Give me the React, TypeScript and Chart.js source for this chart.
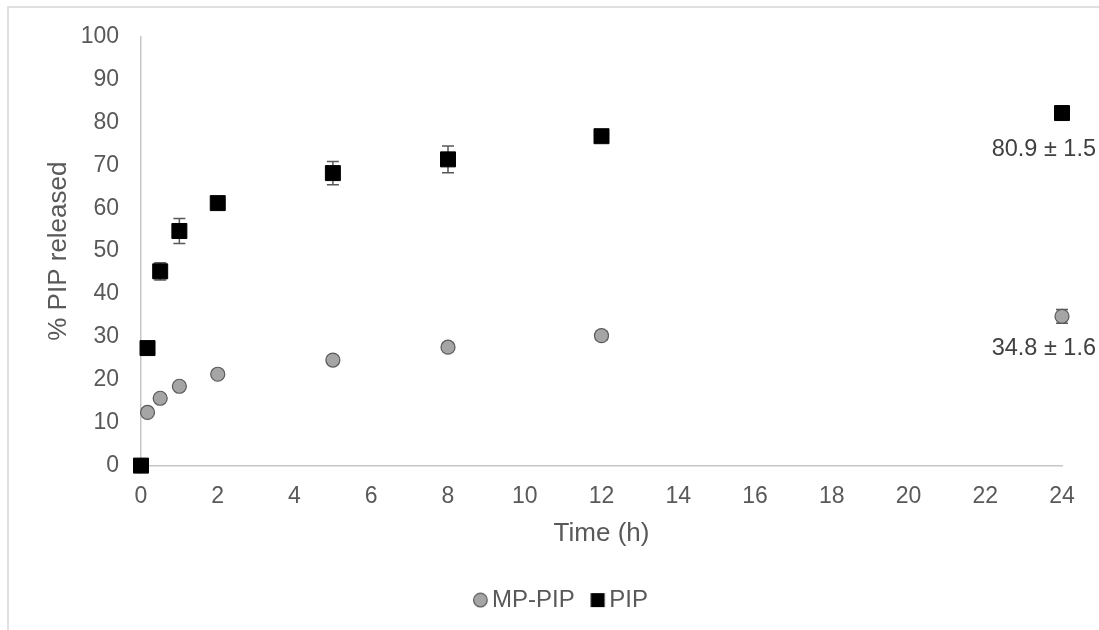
import React, { useEffect, useRef } from "react";
import { Chart, registerables } from "chart.js";

Chart.register(...registerables);

const timeHours = [0, 0.17, 0.5, 1, 2, 5, 8, 12, 24];
const mpPipValues = [0, 12.4, 15.7, 18.5, 21.3, 24.6, 27.6, 30.3, 34.8];
const mpPipErrors = [0, 0.5, 0.6, 0.7, 0.8, 0.9, 1.0, 1.0, 1.6];
const pipValues = [0, 27.4, 45.3, 54.7, 61.2, 68.2, 71.4, 76.8, 82.2];
const pipErrors = [0, 0.8, 2.0, 2.9, 0.9, 2.7, 3.1, 1.2, 1.5];
const seriesNames = ["MP-PIP", "PIP"];
const endLabels = ["34.8 ± 1.6", "80.9 ± 1.5"];
const xTickValues = [0, 2, 4, 6, 8, 10, 12, 14, 16, 18, 20, 22, 24];
const yTickValues = [0, 10, 20, 30, 40, 50, 60, 70, 80, 90, 100];
const xTitle = "Time (h)";
const yTitle = "% PIP released";

const FONT = "'Liberation Sans', Arial, sans-serif";
const TEXT = "#595959";

function makeLegendMarker(kind: "circle" | "rect", shift: number) {
  const c = document.createElement("canvas");
  c.width = 40;
  c.height = 16;
  const g = c.getContext("2d")!;
  const cx = 20 + shift;
  const cy = 8;
  if (kind === "circle") {
    g.beginPath();
    g.arc(cx, cy, 6.8, 0, Math.PI * 2);
    g.fillStyle = "#a5a5a5";
    g.fill();
    g.lineWidth = 1.2;
    g.strokeStyle = "#595959";
    g.stroke();
  } else {
    g.fillStyle = "#000000";
    g.fillRect(cx - 7, cy - 7, 14, 14);
  }
  return c;
}

export default function App() {
  const ref = useRef<HTMLCanvasElement | null>(null);

  useEffect(() => {
    if (!ref.current) return;
    const legendMarkers = [makeLegendMarker("circle", 10.4), makeLegendMarker("rect", 10.4)];
    const valueSets = [mpPipValues, pipValues];
    const errorSets = [mpPipErrors, pipErrors];
    const labelOffsets = [32, 36];

    const errorBars = {
      id: "errorBars",
      beforeDatasetsDraw(chart: any) {
        const ctx = chart.ctx;
        const xs = chart.scales.x;
        const ys = chart.scales.y;
        ctx.save();
        ctx.strokeStyle = "#595959";
        ctx.lineWidth = 1.5;
        valueSets.forEach((vals, d) => {
          const errs = errorSets[d];
          vals.forEach((v, i) => {
            const e = errs[i];
            if (!e) return;
            const x = xs.getPixelForValue(timeHours[i]);
            const y1 = ys.getPixelForValue(v + e);
            const y2 = ys.getPixelForValue(v - e);
            ctx.beginPath();
            ctx.moveTo(x, y1);
            ctx.lineTo(x, y2);
            ctx.moveTo(x - 6, y1);
            ctx.lineTo(x + 6, y1);
            ctx.moveTo(x - 6, y2);
            ctx.lineTo(x + 6, y2);
            ctx.stroke();
          });
        });
        ctx.restore();
      },
    };

    const endLabelPlugin = {
      id: "endLabels",
      afterDatasetsDraw(chart: any) {
        const ctx = chart.ctx;
        ctx.save();
        ctx.font = `23.5px ${FONT}`;
        ctx.fillStyle = "#404040";
        ctx.textAlign = "right";
        ctx.textBaseline = "middle";
        chart.data.datasets.forEach((_ds: any, d: number) => {
          const meta = chart.getDatasetMeta(d);
          const last = meta.data[meta.data.length - 1];
          ctx.fillText(endLabels[d], last.x + 34, last.y + labelOffsets[d]);
        });
        ctx.restore();
      },
    };

    const chart = new Chart(ref.current, {
      type: "scatter",
      data: {
        datasets: [
          {
            label: seriesNames[0],
            data: timeHours.map((t, i) => ({ x: t, y: mpPipValues[i] })),
            pointStyle: "circle",
            pointRadius: 7,
            pointBackgroundColor: "#a5a5a5",
            pointBorderColor: "#595959",
            pointBorderWidth: 1.2,
            backgroundColor: "#a5a5a5",
            borderColor: "#595959",
            clip: false,
            order: 1,
          },
          {
            label: seriesNames[1],
            data: timeHours.map((t, i) => ({ x: t, y: pipValues[i] })),
            pointStyle: "rect",
            pointRadius: 10.6,
            pointBackgroundColor: "#000000",
            pointBorderColor: "#000000",
            pointBorderWidth: 1,
            backgroundColor: "#000000",
            borderColor: "#000000",
            clip: false,
            order: 0,
          },
        ],
      },
      options: {
        animation: false,
        responsive: false,
        layout: { padding: { left: 0, right: 0, top: 28.7, bottom: 7.9 } },
        plugins: {
          tooltip: { enabled: false },
          legend: {
            position: "bottom",
            align: "center",
            labels: {
              usePointStyle: true,
              pointStyleWidth: 20,
              padding: 2.6,
              color: TEXT,
              font: { family: FONT, size: 24 },
              generateLabels: (ch: any) =>
                ch.data.datasets.map((ds: any, i: number) => ({
                  text: ds.label,
                  fillStyle: ds.backgroundColor,
                  strokeStyle: ds.borderColor,
                  lineWidth: 0,
                  pointStyle: legendMarkers[i],
                  hidden: false,
                  datasetIndex: i,
                  fontColor: TEXT,
                })),
            },
          },
        },
        scales: {
          x: {
            type: "linear",
            min: 0,
            max: 24,
            afterBuildTicks: (s: any) => {
              s.ticks = xTickValues.map((v) => ({ value: v }));
            },
            afterFit: (s: any) => {
              s.height = 119.9;
            },
            grid: { display: false, drawTicks: false },
            border: { display: true, color: "#c6c6c6", width: 1.5 },
            ticks: { color: TEXT, padding: 17.2, font: { family: FONT, size: 23 }, maxRotation: 0 },
            title: {
              display: true,
              text: xTitle,
              color: TEXT,
              font: { family: FONT, size: 26 },
              padding: { top: 0, bottom: 36.3 },
            },
          },
          y: {
            type: "linear",
            min: 0,
            max: 100,
            afterBuildTicks: (s: any) => {
              s.ticks = yTickValues.map((v) => ({ value: v }));
            },
            afterFit: (s: any) => {
              s.width = 132;
              s.paddingTop = 0;
              s.paddingBottom = 0;
            },
            grid: { display: false, drawTicks: false },
            border: { display: true, color: "#c6c6c6", width: 1.5 },
            ticks: { color: TEXT, padding: 22, font: { family: FONT, size: 23 } },
            title: {
              display: true,
              text: yTitle,
              color: TEXT,
              font: { family: FONT, size: 26 },
              padding: { top: 33.9, bottom: 0 },
            },
          },
          yRightSpace: {
            type: "linear",
            position: "right",
            display: true,
            min: 0,
            max: 100,
            afterFit: (s: any) => {
              s.width = 37;
              s.paddingTop = 0;
              s.paddingBottom = 0;
            },
            grid: { display: false, drawTicks: false },
            border: { display: false },
            ticks: { display: false },
          },
        },
      },
      plugins: [errorBars, endLabelPlugin],
    } as any);

    return () => chart.destroy();
  }, []);

  return (
    <div
      style={{
        position: "absolute",
        left: 7,
        top: 6,
        width: 1092,
        height: 624,
        boxSizing: "border-box",
        borderTop: "2px solid #e0e0e0",
        borderLeft: "2px solid #e0e0e0",
        background: "#ffffff",
      }}
    >
      <canvas ref={ref} width={1090} height={622} style={{ display: "block" }} />
    </div>
  );
}
